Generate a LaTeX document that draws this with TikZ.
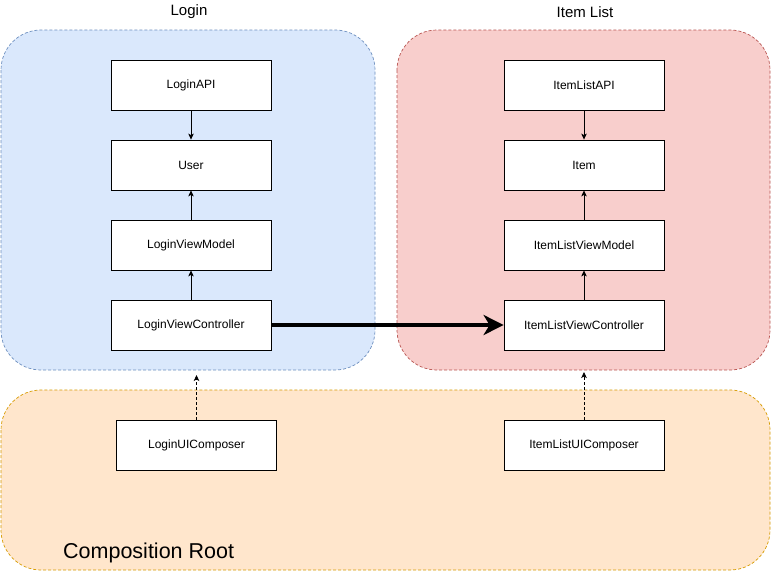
\documentclass[tikz,border=0pt]{standalone}
\usepackage{fontspec}
\setmainfont{Liberation Sans}
\usetikzlibrary{arrows.meta}
\definecolor{bluefill}{HTML}{DAE8FC}
\definecolor{bluestroke}{HTML}{6C8EBF}
\definecolor{redfill}{HTML}{F8CECC}
\definecolor{redstroke}{HTML}{B85450}
\definecolor{orfill}{HTML}{FFE6CC}
\definecolor{orstroke}{HTML}{D79B00}
\begin{document}
\begin{tikzpicture}[x=1pt,y=-1pt,
  container/.style={draw, dashed, dash pattern=on 3pt off 2pt, line width=0.7pt, rounded corners=40pt},
  box/.style={draw, fill=white, line width=0.8pt, minimum width=160pt, minimum height=50pt, inner sep=0pt, font=\fontsize{12}{14}\selectfont},
  thinarrow/.style={line width=0.8pt, -{Stealth[length=6pt,width=5.5pt,inset=1.5pt]}},
  title/.style={font=\fontsize{15}{17}\selectfont}]
\useasboundingbox (0,0) rectangle (773,571);
\fill[white] (0,0) rectangle (773,571);
% containers
\draw[container, fill=orfill, draw=orstroke] (1,390) rectangle (770,570);
\draw[container, fill=bluefill, draw=bluestroke] (1,30) rectangle (375,370);
\draw[container, fill=redfill, draw=redstroke] (397,30) rectangle (770,370);
% titles
\node[title] (tlogin) at (189,12) {Login};
\node[title] (titem) at (585,12) {Item List};
\node[anchor=west, inner sep=0pt, font=\fontsize{21.5}{24}\selectfont] (troot) at (63,553) {Composition Root};
% login boxes
\node[box] (lapi) at (191,85) {LoginAPI};
\node[box] (luser) at (191,165) {User};
\node[box] (lvm) at (191,245) {LoginViewModel};
\node[box] (lvc) at (191,325) {LoginViewController};
% item boxes
\node[box] (iapi) at (584,85) {ItemListAPI};
\node[box] (iitem) at (584,165) {Item};
\node[box] (ivm) at (584,245) {ItemListViewModel};
\node[box] (ivc) at (584,325) {ItemListViewController};
% composers
\node[box] (lcomp) at (196.5,445) {LoginUIComposer};
\node[box] (icomp) at (584,445) {ItemListUIComposer};
\coordinate (ltip) at (196.5,375);
\coordinate (itip) at (584,372);
% arrows
\draw[thinarrow] (lapi.south) -- (luser.north);
\draw[thinarrow] (lvm.north) -- (luser.south);
\draw[thinarrow] (lvc.north) -- (lvm.south);
\draw[thinarrow] (iapi.south) -- (iitem.north);
\draw[thinarrow] (ivm.north) -- (iitem.south);
\draw[thinarrow] (ivc.north) -- (ivm.south);
\draw[thinarrow, dashed, dash pattern=on 3pt off 2pt] (lcomp.north) -- (ltip);
\draw[thinarrow, dashed, dash pattern=on 3pt off 2pt] (icomp.north) -- (itip);
\draw[line width=4pt, -{Stealth[length=20pt,width=20pt,inset=6pt]}] (lvc.east) -- (ivc.west);
\end{tikzpicture}
\end{document}
